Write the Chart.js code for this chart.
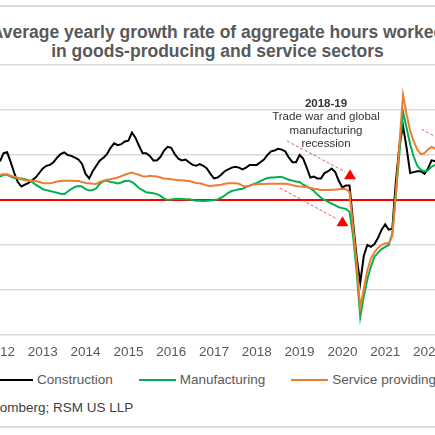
<!DOCTYPE html>
<html>
<head>
<meta charset="utf-8">
<script src="https://cdn.jsdelivr.net/npm/chart.js@4.4.1/dist/chart.umd.min.js"></script>
<style>
  html, body { margin: 0; padding: 0; background: #fff; }
  body { width: 435px; height: 435px; overflow: hidden; position: relative; font-family: "Liberation Sans", Arial, sans-serif; }
  .rule { position: absolute; left: 0; width: 435px; height: 2px; background: #dcdcdc; }
  #title { position: absolute; left: -60px; top: 23px; width: 555px; text-align: center; white-space: nowrap;
           font-weight: bold; font-size: 17.5px; line-height: 18.5px; color: #595959; }
  #chartBox { position: absolute; left: -50px; top: 0; width: 535px; height: 360px; }
  #note { position: absolute; left: 256px; top: 97px; width: 140px; text-align: center; white-space: nowrap;
          font-size: 11.5px; line-height: 13.4px; color: #333; }
  #legend { position: absolute; left: -4px; top: 372px; display: flex; align-items: center; white-space: nowrap;
            font-size: 13.5px; color: #595959; }
  .item { display: flex; align-items: center; margin-right: 26px; }
  .swatch { width: 37px; height: 2px; margin-right: 4px; }
  #source { position: absolute; left: -70px; top: 400px; white-space: nowrap; font-size: 13.5px; color: #404040; }
</style>
</head>
<body>
<div class="rule" style="top:5px"></div>
<div id="title">Average yearly growth rate of aggregate hours worked<br>in goods-producing and service sectors</div>
<div id="chartBox"><canvas id="chart" width="535" height="360"></canvas></div>
<div id="note"><b>2018-19</b><br>Trade war and global<br>manufacturing<br>recession</div>
<div id="legend"></div>
<div id="source">Source: Bloomberg; RSM US LLP</div>
<div class="rule" style="top:426px"></div>

<script>
// monthly series, first value = January 2012
const startYear = 2012;
const yearTicks = [2012, 2013, 2014, 2015, 2016, 2017, 2018, 2019, 2020, 2021, 2022];
const seriesNames = ["Construction", "Manufacturing", "Service providing"];

const construction = [
    4.3, 5.2, 5.3, 4.2, 3.0, 2.0, 1.5, 1.7, 1.9, 2.2, 2.5, 3.0,
    3.5, 3.8, 3.9, 4.2, 4.7, 5.1, 5.3, 5.0, 4.9, 4.7, 4.5, 4.0,
    2.9, 2.4, 3.2, 3.8, 4.4, 4.7, 5.1, 5.8, 6.3, 6.1, 6.2, 6.5,
    6.6, 7.5, 6.9, 6.0, 5.2, 5.2, 4.9, 4.4, 4.4, 4.8, 5.5, 5.9,
    5.8, 5.1, 4.6, 4.4, 4.5, 4.2, 3.9, 3.8, 4.0, 3.8, 3.5, 2.9,
    2.4, 2.5, 2.8, 3.2, 3.4, 3.6, 3.7, 3.6, 3.4, 3.6, 3.9, 3.9,
    3.9, 4.2, 4.5, 5.0, 5.4, 5.5, 5.7, 5.6, 5.4, 4.7, 4.2, 4.2,
    5.0, 4.6, 3.6, 2.5, 2.6, 2.4, 2.4, 3.0, 3.2, 3.5, 3.1, 2.1,
    1.4, 1.6, 1.6, -2.5, -6.4, -9.2, -6.2, -5.0, -5.2, -4.9, -4.2, -3.3,
    -2.7, -3.3, -3.2, 2.1, 6.1, 8.2, 5.8, 3.0, 3.1, 3.2, 3.2, 2.9,
    3.5, 4.4, 4.3, 4.5
];
const manufacturing = [
    2.6, 2.8, 2.8, 2.6, 2.45, 2.4, 2.4, 2.3, 2.2, 2.0, 1.7, 1.45,
    1.2, 1.1, 1.0, 0.9, 0.8, 0.7, 0.65, 0.95, 1.2, 1.45, 1.56, 1.5,
    1.2, 1.05, 1.1, 1.3, 1.8, 2.1, 2.15, 2.0, 1.95, 1.85, 1.95, 2.1,
    2.15, 2.0, 1.7, 1.3, 1.1, 0.85, 0.8, 0.75, 0.65, 0.45, 0.15, 0.0,
    0.07, 0.1, 0.15, 0.12, 0.08, 0.07, 0.0, -0.07, -0.07, -0.1, -0.07, -0.05,
    0.0, 0.07, 0.25, 0.5, 0.8, 1.0, 1.1, 1.2, 1.25, 1.45, 1.6, 1.75,
    1.9, 2.1, 2.3, 2.45, 2.5, 2.5, 2.55, 2.55, 2.4, 2.25, 2.15, 2.05,
    2.0, 1.7, 1.5, 1.3, 1.0, 0.6, 0.25, 0.0, -0.2, -0.4, -0.6, -0.8,
    -0.9, -1.0, -1.3, -4.0, -8.0, -13.0, -10.7, -8.8, -7.4, -6.3, -5.85, -5.45,
    -5.2, -5.0, -3.7, 0.6, 5.3, 9.8, 8.0, 6.2, 4.8, 3.8, 3.35, 3.2,
    3.3, 3.7, 3.9, 4.0
];
const services = [
    2.8, 2.85, 2.85, 2.7, 2.6, 2.45, 2.3, 2.2, 2.15, 2.15, 2.1, 2.0,
    1.9, 1.85, 1.85, 1.95, 2.05, 2.1, 2.15, 2.15, 2.15, 2.1, 2.1, 2.0,
    1.9, 1.85, 1.8, 1.78, 2.0, 2.15, 2.25, 2.3, 2.4, 2.5, 2.65, 2.8,
    2.95, 3.05, 2.9, 2.8, 2.65, 2.6, 2.7, 2.65, 2.6, 2.5, 2.4, 2.35,
    2.3, 2.25, 2.2, 2.2, 2.15, 2.1, 2.0, 1.9, 1.85, 1.75, 1.6, 1.55,
    1.6, 1.65, 1.7, 1.8, 1.85, 1.85, 1.85, 1.8, 1.6, 1.5, 1.6, 1.7,
    1.75, 1.78, 1.78, 1.8, 1.8, 1.8, 1.8, 1.8, 1.8, 1.75, 1.65, 1.55,
    1.5, 1.48, 1.45, 1.35, 1.25, 1.2, 1.1, 1.1, 1.1, 1.15, 1.15, 1.2,
    1.25, 1.2, 0.9, -3.0, -7.1, -12.0, -9.9, -7.8, -6.5, -5.8, -5.3, -5.0,
    -4.8, -4.8, -4.0, 0.8, 6.3, 11.7, 9.5, 7.7, 6.5, 5.6, 5.1, 5.2,
    5.6, 5.9, 5.7, 5.6
];
const seriesColors = ["#000000", "#00b050", "#ed7d31"];

// dashed arrows of the 2018-19 note, in data units (year, %)
const arrows = [
    { from: [2018.706, 6.56], to: [2020.061, 3.14], tip: [2020.178, 3.41] },
    { from: [2018.542, 1.33], to: [2019.874, -2.11], tip: [2020.002, -1.81] },
    { from: [2021.853, 7.86], to: [2022.50, 6.20], tip: [2022.62, 6.45] }
];

const toPoints = vals => vals.map((v, i) => ({ x: startYear + i / 12, y: v }));
const font = "'Liberation Sans', Arial, sans-serif";

const arrowPlugin = {
    id: "arrows",
    afterDatasetsDraw(chart) {
        const { ctx, scales: { x, y } } = chart;
        ctx.save();
        arrows.forEach(a => {
            ctx.strokeStyle = "rgba(255,40,40,0.8)";
            ctx.lineWidth = 1;
            ctx.setLineDash([3, 2]);
            ctx.beginPath();
            ctx.moveTo(x.getPixelForValue(a.from[0]), y.getPixelForValue(a.from[1]));
            ctx.lineTo(x.getPixelForValue(a.to[0]), y.getPixelForValue(a.to[1]));
            ctx.stroke();
            ctx.setLineDash([]);
            const tx = x.getPixelForValue(a.tip[0]);
            const ty = y.getPixelForValue(a.tip[1]);
            ctx.fillStyle = "#ff0000";
            ctx.beginPath();
            ctx.moveTo(tx, ty);
            ctx.lineTo(tx + 6, ty + 10);
            ctx.lineTo(tx - 6, ty + 10);
            ctx.closePath();
            ctx.fill();
        });
        ctx.restore();
    }
};

const seriesData = [construction, manufacturing, services];
const chart = new Chart(document.getElementById("chart"), {
    type: "line",
    data: {
        datasets: seriesNames.map((name, i) => ({
            label: name,
            data: toPoints(seriesData[i]),
            borderColor: seriesColors[i],
            borderWidth: 2,
            pointRadius: 0,
            tension: 0,
            fill: false,
            order: 3 - i
        }))
    },
    options: {
        responsive: false,
        animation: false,
        layout: { padding: { top: 65, left: 0, right: 0, bottom: 0 } },
        plugins: { legend: { display: false }, tooltip: { enabled: false } },
        scales: {
            x: {
                type: "linear",
                min: 2010.8318,
                max: 2023.3318,
                grid: { display: false, drawTicks: false },
                border: { display: false },
                ticks: {
                    padding: 9,
                    color: "#595959",
                    font: { family: font, size: 13.5 },
                    callback: v => String(v)
                },
                afterBuildTicks: axis => { axis.ticks = yearTicks.map(v => ({ value: v })); },
                afterFit: s => { s.height = 25; }
            },
            y: {
                min: -15,
                max: 15,
                ticks: { display: false, stepSize: 5 },
                grid: {
                    drawTicks: false,
                    color: c => c.tick.value === 0 ? "#ff0000" : "#d9d9d9",
                    lineWidth: c => c.tick.value === 0 ? 2 : 1.5
                },
                border: { display: false },
                afterFit: s => { s.width = 0; }
            }
        }
    },
    plugins: [arrowPlugin]
});

// legend
const legend = document.getElementById("legend");
seriesNames.forEach((name, i) => {
    const item = document.createElement("div");
    item.className = "item";
    item.innerHTML = `<span class="swatch" style="background:${seriesColors[i]}"></span><span>${name}</span>`;
    legend.appendChild(item);
});
</script>
</body>
</html>
